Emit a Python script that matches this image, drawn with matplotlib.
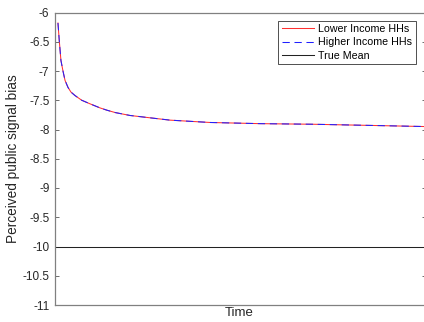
import matplotlib
matplotlib.use("Agg")
import matplotlib.pyplot as plt

plt.rcParams['font.family'] = ['Liberation Sans', 'DejaVu Sans']

time = [0.8, 1.15, 1.6, 2.15, 2.7, 3.5, 4.3, 5.4, 7.2, 9.4, 12.1, 14.0, 16.2, 20.2,
        25.6, 31.0, 41.8, 55.3, 69.3, 84.9, 100]
lower_income = [-6.18, -6.48, -6.82, -7.00, -7.16, -7.28, -7.36, -7.42, -7.50, -7.56, -7.63,
                -7.67, -7.71, -7.76, -7.80, -7.84, -7.88, -7.90, -7.91, -7.93, -7.95]
higher_income = [-6.18, -6.48, -6.82, -7.00, -7.16, -7.28, -7.36, -7.42, -7.50, -7.56, -7.63,
                 -7.67, -7.71, -7.76, -7.80, -7.84, -7.88, -7.90, -7.91, -7.93, -7.95]
true_mean = -10
yticks = [-11, -10.5, -10, -9.5, -9, -8.5, -8, -7.5, -7, -6.5, -6]
ytick_labels = ['-11', '-10.5', '-10', '-9.5', '-9', '-8.5', '-8', '-7.5', '-7', '-6.5', '-6']

W, H = 424, 322
fig = plt.figure(figsize=(W / 100, H / 100), dpi=100)
ax = fig.add_axes([55 / W, 1 - 305 / H, (426 - 55) / W, (305 - 12.5) / H])

ax.plot(time, lower_income, color='#ff3030', lw=0.75, label='Lower Income HHs')
ax.plot(time, higher_income, color='#2020ff', lw=0.75, ls=(0, (7, 4.5)), label='Higher Income HHs')
ax.axhline(true_mean, color='#222222', lw=0.75, label='True Mean')

ax.set_xlim(0, 100)
ax.set_ylim(-11, -6)
ax.set_yticks(yticks)
ax.set_yticklabels(ytick_labels)
ax.set_xticks([])
ax.tick_params(axis='y', direction='in', length=3, width=0.6, color='#555555',
               labelsize=8.5, labelcolor='#262626', right=True, pad=4)
for s in ax.spines.values():
    s.set_color('#808080')
    s.set_linewidth(0.9)

ax.set_ylabel('Perceived public signal bias', fontsize=9.8, color='#262626')
ax.yaxis.set_label_coords(-(55 - 13) / (426 - 55), 0.5)
ax.yaxis.label.set_va('center')
ax.set_xlabel('Time', fontsize=9.5, color='#262626')
ax.xaxis.set_label_coords((239 - 55) / (426 - 55), -(313.5 - 305) / (305 - 12.5))
ax.xaxis.label.set_va('center')

leg = ax.legend(loc='upper right', bbox_to_anchor=(416 / W, 1 - 20.5 / H),
                bbox_transform=fig.transFigure, borderaxespad=0, fancybox=False,
                framealpha=1, edgecolor='#333333', fontsize=7.7, handlelength=3.0,
                handletextpad=0.4, labelspacing=0.3, borderpad=0.35)
leg.get_frame().set_linewidth(0.6)

fig.savefig('out.png', dpi=100)
